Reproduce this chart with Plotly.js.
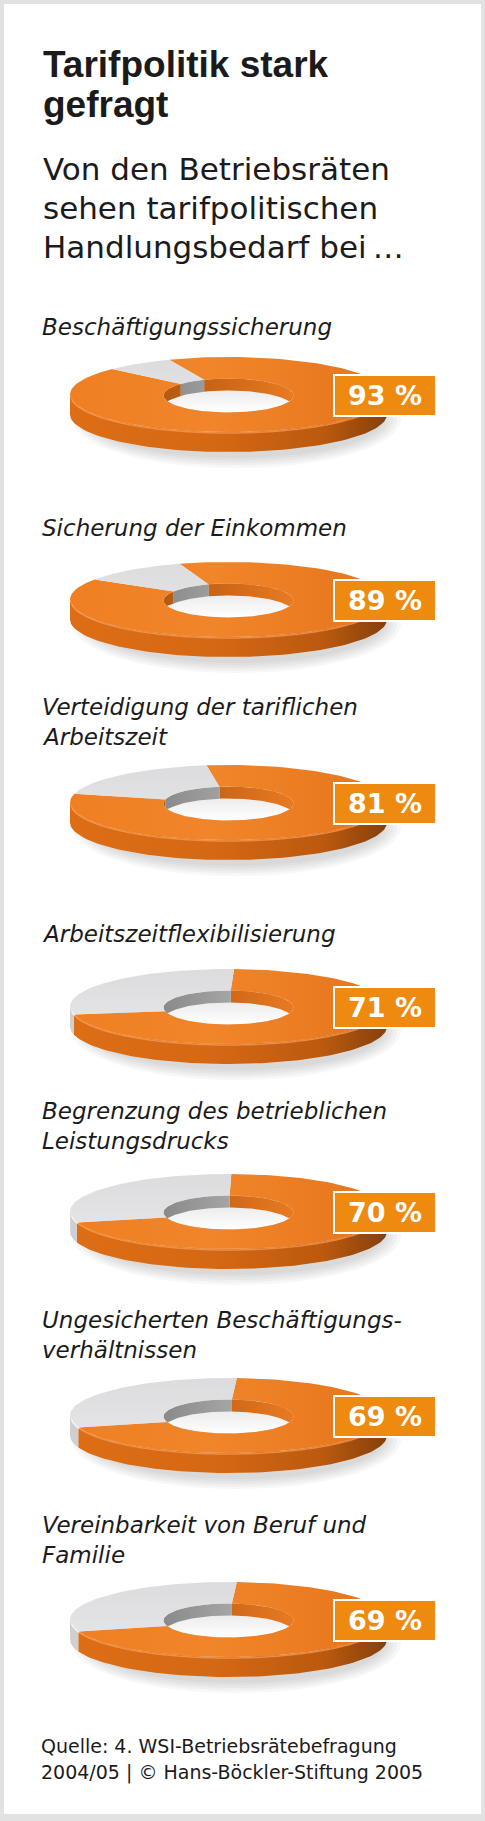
<!DOCTYPE html>
<html>
<head>
<meta charset="utf-8">
<script src="https://cdn.plot.ly/plotly-3.0.1.min.js"></script>
<style>
  html, body { margin: 0; padding: 0; background: #e2e2e2; }
  #chart { width: 485px; height: 1821px; }
</style>
</head>
<body>
<div id="chart"></div>
<script>
'use strict';
(function () {
  window.addEventListener('load', init);

  // items and share of works councils who see need for action (%)
  const categories = [
    'Beschäftigungssicherung',
    'Sicherung der Einkommen',
    'Verteidigung der tariflichen<br>Arbeitszeit',
    'Arbeitszeitflexibilisierung',
    'Begrenzung des betrieblichen<br>Leistungsdrucks',
    'Ungesicherten Beschäftigungs-<br>verhältnissen',
    'Vereinbarkeit von Beruf und<br>Familie'
  ];
  const values = [93, 89, 81, 71, 70, 69, 69];

  const titleLines = ['Tarifpolitik stark', 'gefragt'];
  const subtitleLines = ['Von den Betriebsräten', 'sehen tarifpolitischen', 'Handlungsbedarf bei\u2009…'];
  const sourceLines = ['Quelle: 4. WSI-Betriebsrätebefragung', '2004/05 | © Hans-Böckler-Stiftung 2005'];

  // where each ring sits on the page (px) and how it is turned
  const CENTER_Y = [394.5, 599.5, 802.5, 1006.5, 1211.5, 1415.5, 1619.5];
  const LABEL_OFFSET = [-59.5, -63.5, -57.5, -64.5, -62.5, -57.5, -56.5];
  const START_ANGLE = [-22, -18, -8, 2, 1, 3, 3];

  const CX = 228.5, RX = 158.5, RY = 37.5;
  const RXIN = 65, RYIN = 17, DEPTH = 20, DEPTH_IN = 12;

  function arc(cx, cy, rx, ry, a, b) {
    let n = Math.max(2, Math.ceil(Math.abs(b - a) / 2));
    let pts = [];
    for (let k = 0; k <= n; k++) {
      let t = (a + (b - a) * k / n) * Math.PI / 180;
      pts.push([cx + rx * Math.sin(t), cy - ry * Math.cos(t), t]);
    }
    return pts;
  }

  function clip(a, b, lo, hi) {
    let out = [];
    for (let k = -1; k <= 1; k++) {
      let l = Math.max(a, lo + 360 * k);
      let h = Math.min(b, hi + 360 * k);
      if (h > l) out.push([l, h]);
    }
    return out;
  }

  function poly(pts, style) {
    let tr = {
      x: pts.map(p => p[0]),
      y: pts.map(p => p[1]),
      mode: 'lines',
      line: {width: 0},
      fill: 'toself',
      hoverinfo: 'skip',
      showlegend: false
    };
    if (style.gradient) {
      tr.fillgradient = style.gradient;
    } else {
      tr.fillcolor = style.color;
    }
    return tr;
  }

  function rim(pts, color, width) {
    return {
      x: pts.map(p => p[0]),
      y: pts.map(p => p[1]),
      mode: 'lines',
      line: {width: width, color: color, shape: 'spline'},
      hoverinfo: 'skip',
      showlegend: false
    };
  }

  function hgrad(stops, x0, x1) {
    return {type: 'horizontal', colorscale: stops, start: x0, stop: x1};
  }

  function vgrad(stops, y0, y1) {
    return {type: 'vertical', colorscale: stops, start: y0, stop: y1};
  }

  function ringTraces(i) {
    let cy = CENTER_Y[i];
    let cyIn = cy + 1;
    let s = START_ANGLE[i];
    let e = s + values[i] * 3.6;
    let slices = [
      {a: s, b: e, orange: true},
      {a: e, b: s + 360, orange: false}
    ];
    let traces = [];

    // soft shadow
    for (let k = 0; k < 5; k++) {
      let pts = arc(CX + 8, cy + DEPTH + 4, RX - 10 + k * 4, RY + 2 + k * 2.5, 0, 360);
      traces.push(poly(pts, {color: 'rgba(60,60,60,0.045)'}));
    }

    // outer wall, front half
    slices.forEach(sl => {
      clip(sl.a, sl.b, 90, 270).forEach(r => {
        let top = arc(CX, cy, RX, RY, r[0], r[1]);
        let bottom = top.slice().reverse().map(p => [p[0], p[1] + DEPTH]);
        let style = sl.orange
          ? {gradient: hgrad([[0, '#DD6E16'], [0.45, '#D56814'], [0.8, '#BB590E'], [1, '#85400C']], CX - RX, CX + RX)}
          : {gradient: hgrad([[0, '#CFCFCF'], [1, '#D8D8D8']], CX - RX, CX)};
        traces.push(poly(top.concat(bottom), style));
      });
    });

    // floor seen through the hole
    traces.push(poly(arc(CX, cyIn, RXIN, RYIN, 0, 360),
      {gradient: vgrad([[0, '#E2E2E2'], [1, '#FFFFFF']], cyIn - RYIN, cyIn + RYIN)}));

    // inner wall, back half
    slices.forEach(sl => {
      clip(sl.a, sl.b, -90, 90).forEach(r => {
        let top = arc(CX, cyIn, RXIN, RYIN, r[0], r[1]);
        let bottom = top.slice().reverse().map(p =>
          [p[0], Math.min(p[1] + DEPTH_IN, cyIn + RYIN * Math.cos(p[2]))]);
        let style = sl.orange
          ? {gradient: hgrad([[0, '#B45A12'], [0.5, '#CF6818'], [1, '#E87A22']], CX - RXIN, CX + RXIN)}
          : {gradient: hgrad([[0, '#8A8A8A'], [1, '#BEBEBE']], CX - RXIN, CX + RXIN)};
        traces.push(poly(top.concat(bottom), style));
      });
    });

    // top face
    slices.forEach(sl => {
      let outer = arc(CX, cy, RX, RY, sl.a, sl.b);
      let inner = arc(CX, cyIn, RXIN, RYIN, sl.b, sl.a);
      let style = sl.orange
        ? {gradient: hgrad([[0, '#EF7F22'], [0.45, '#F1852A'], [1, '#E6741B']], CX - RX, CX + RX)}
        : {gradient: vgrad([[0, '#DCDCDE'], [1, '#E8E8EA']], cy - RY, cy + RY)};
      traces.push(poly(outer.concat(inner), style));
    });

    // light edge along the front rim
    slices.forEach(sl => {
      clip(sl.a, sl.b, 95, 265).forEach(r => {
        let pts = arc(CX, cy + 1, RX - 1, RY, r[0], r[1]);
        traces.push(rim(pts, sl.orange ? 'rgba(250,160,90,0.7)' : 'rgba(245,245,245,0.9)', 1.5));
      });
    });

    return traces;
  }

  function textLine(txt, x, baseline, font) {
    return {
      text: txt,
      x: x,
      y: baseline - 0.346 * font.size,
      xref: 'x',
      yref: 'y',
      xanchor: 'left',
      yanchor: 'middle',
      align: 'left',
      showarrow: false,
      borderpad: 0,
      font: font
    };
  }

  function init() {
    let data = [];
    let annotations = [];

    let titleFont = {family: 'Liberation Sans, Arial, sans-serif', size: 37, color: '#1b1b1b', weight: 700};
    let subFont = {family: 'DejaVu Sans, sans-serif', size: 31, color: '#1b1b1b'};
    let labelFont = {family: 'DejaVu Sans, sans-serif', size: 23, color: '#1b1b1b', style: 'italic'};
    let sourceFont = {family: 'DejaVu Sans, sans-serif', size: 19, color: '#1b1b1b'};

    titleLines.forEach((t, k) => annotations.push(textLine(t, 42, 77 + 40 * k, titleFont)));
    subtitleLines.forEach((t, k) => annotations.push(textLine(t, 42, 180 + 39 * k, subFont)));
    sourceLines.forEach((t, k) => annotations.push(textLine(t, 40, 1753 + 26 * k, sourceFont)));

    values.forEach((v, i) => {
      data = data.concat(ringTraces(i));

      let lines = categories[i].split('<br>');
      lines.forEach((t, k) => {
        let base = CENTER_Y[i] + LABEL_OFFSET[i] - 30 * (lines.length - 1 - k);
        annotations.push(textLine(t, 41, base, labelFont));
      });

      annotations.push({
        text: v + ' %',
        x: 385,
        y: CENTER_Y[i] + 1,
        xref: 'x',
        yref: 'y',
        xanchor: 'center',
        yanchor: 'middle',
        showarrow: false,
        width: 100,
        height: 39,
        borderpad: 0,
        borderwidth: 2,
        bordercolor: '#FFFFFF',
        bgcolor: '#EF8A10',
        font: {family: 'DejaVu Sans, sans-serif', size: 27, color: '#FFFFFF', weight: 700}
      });
    });

    let layout = {
      width: 485,
      height: 1821,
      margin: {l: 0, r: 0, t: 0, b: 0},
      paper_bgcolor: '#E2E2E2',
      plot_bgcolor: '#E2E2E2',
      xaxis: {range: [0, 485], visible: false, fixedrange: true},
      yaxis: {range: [1821, 0], visible: false, fixedrange: true},
      shapes: [{
        type: 'rect', xref: 'x', yref: 'y', x0: 4, x1: 481, y0: 4, y1: 1814,
        fillcolor: '#FFFFFF', line: {width: 0}, layer: 'below'
      }],
      annotations: annotations,
      showlegend: false
    };

    Plotly.newPlot('chart', data, layout, {staticPlot: true, displayModeBar: false});
  }
})();
</script>
</body>
</html>
